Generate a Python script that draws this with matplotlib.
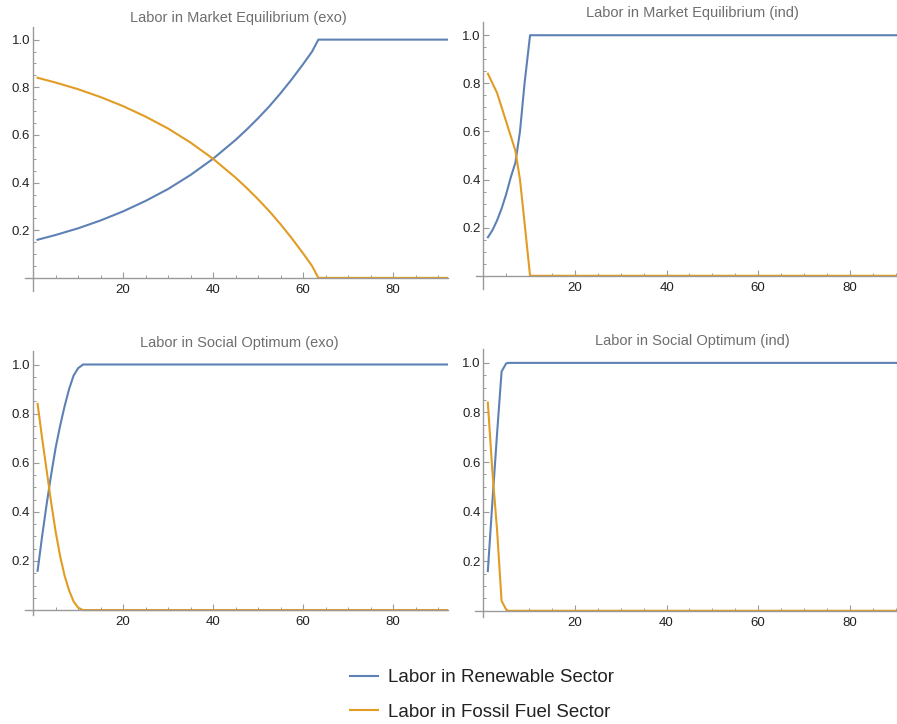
import numpy as np
import matplotlib
matplotlib.use("Agg")
import matplotlib.pyplot as plt
from matplotlib.ticker import FixedLocator, FormatStrFormatter
from matplotlib.lines import Line2D

plt.rcParams['font.family'] = ['Liberation Sans', 'DejaVu Sans']

# Labor shares (time in years)
t_me_exo = [1, 5, 10, 15, 20, 25, 30, 35, 40, 45, 47.5, 50, 52.5, 55, 57.5, 60, 62, 63.4, 92]
ren_me_exo = [0.16, 0.18, 0.208, 0.241, 0.279, 0.323, 0.373, 0.432, 0.50,
              0.579, 0.623, 0.670, 0.72, 0.775, 0.834, 0.897, 0.95, 1.0, 1.0]
fos_me_exo = [0.84, 0.82, 0.792, 0.759, 0.721, 0.677, 0.627, 0.568, 0.50,
              0.421, 0.377, 0.330, 0.28, 0.225, 0.166, 0.103, 0.05, 0.0, 0.0]

t_me_ind = [1, 2, 3, 4, 5, 6, 7, 8, 9, 10.2, 92]
ren_me_ind = [0.16, 0.19, 0.23, 0.28, 0.34, 0.41, 0.47, 0.60, 0.80, 1.0, 1.0]
fos_me_ind = [0.84, 0.80, 0.76, 0.70, 0.64, 0.58, 0.52, 0.40, 0.22, 0.0, 0.0]

t_so_exo = [1, 2, 3, 4, 5, 6, 7, 8, 9, 10, 11.1, 92]
ren_so_exo = [0.16, 0.30, 0.43, 0.55, 0.66, 0.75, 0.83, 0.90, 0.955, 0.985, 1.0, 1.0]
fos_so_exo = [0.84, 0.70, 0.57, 0.44, 0.32, 0.22, 0.14, 0.08, 0.035, 0.01, 0.0, 0.0]

t_so_ind = [1, 2, 3, 4, 5, 5.5, 92]
ren_so_ind = [0.16, 0.44, 0.71, 0.965, 0.998, 1.0, 1.0]
fos_so_ind = [0.84, 0.56, 0.33, 0.04, 0.005, 0.0, 0.0]

titles = ["Labor in Market Equilibrium (exo)", "Labor in Market Equilibrium (ind)",
          "Labor in Social Optimum (exo)", "Labor in Social Optimum (ind)"]
series = [(t_me_exo, ren_me_exo, fos_me_exo), (t_me_ind, ren_me_ind, fos_me_ind),
          (t_so_exo, ren_so_exo, fos_so_exo), (t_so_ind, ren_so_ind, fos_so_ind)]

blue = '#5E81B5'
gold = '#E19C24'
axis_gray = '#9a9a9a'

W, H = 897, 724
fig = plt.figure(figsize=(W / 100, H / 100), dpi=100)

# pixel boxes: left, right, top, bottom
boxes = [(25, 448, 27, 291), (476, 897, 22, 289), (25, 448, 351, 615), (475, 897, 349, 617)]
xlims = [(-1.78, 92.2), (-1.6, 90.3), (-1.8, 92.2), (-1.8, 90.3)]
ylims = [(-0.055, 1.053), (-0.055, 1.055), (-0.02, 1.055), (-0.025, 1.056)]
title_pos = [(238, 18), (692, 13), (239, 343), (692, 341)]

for i in range(4):
    l, r, t, b = boxes[i]
    ax = fig.add_axes([l / W, 1 - b / H, (r - l) / W, (b - t) / H])
    x, ren, fos = series[i]
    ax.plot(x, ren, color=blue, lw=1.5)
    ax.plot(x, fos, color=gold, lw=1.5)
    ax.set_xlim(*xlims[i])
    ax.set_ylim(*ylims[i])

    # Mathematica-style axes crossing at the origin
    for side in ['top', 'right']:
        ax.spines[side].set_visible(False)
    ax.spines['left'].set_position(('data', 0))
    ax.spines['bottom'].set_position(('data', 0))
    for side in ['left', 'bottom']:
        ax.spines[side].set_color(axis_gray)
        ax.spines[side].set_linewidth(1.0)

    ax.xaxis.set_major_locator(FixedLocator([20, 40, 60, 80]))
    ax.xaxis.set_minor_locator(FixedLocator([v for v in range(5, 95, 5) if v % 20]))
    ax.yaxis.set_major_locator(FixedLocator([0.2, 0.4, 0.6, 0.8, 1.0]))
    ax.yaxis.set_minor_locator(FixedLocator([v / 100 for v in range(5, 105, 5) if v % 20]))
    ax.yaxis.set_major_formatter(FormatStrFormatter('%.1f'))
    ax.tick_params(which='both', direction='in', color=axis_gray, labelcolor='#222222',
                   labelsize=9.5)
    ax.tick_params(which='major', length=4, width=0.8)
    ax.tick_params(which='minor', length=2.2, width=0.7)
    ax.tick_params(axis='y', pad=2)
    ax.tick_params(axis='x', pad=4.5)

    tx, ty = title_pos[i]
    fig.text(tx / W, 1 - ty / H, titles[i], ha='center', va='center',
             fontsize=10.5, color='#6e6e6e')

handles = [Line2D([], [], color=blue, lw=1.5), Line2D([], [], color=gold, lw=1.5)]
fig.legend(handles, ['Labor in Renewable Sector', 'Labor in Fossil Fuel Sector'],
           loc='center', bbox_to_anchor=(482 / W, 1 - 695 / H), frameon=False,
           fontsize=13.5, handlelength=1.5, handletextpad=0.55, labelspacing=0.92,
           labelcolor='#222222')

fig.savefig('out.png', dpi=100)
